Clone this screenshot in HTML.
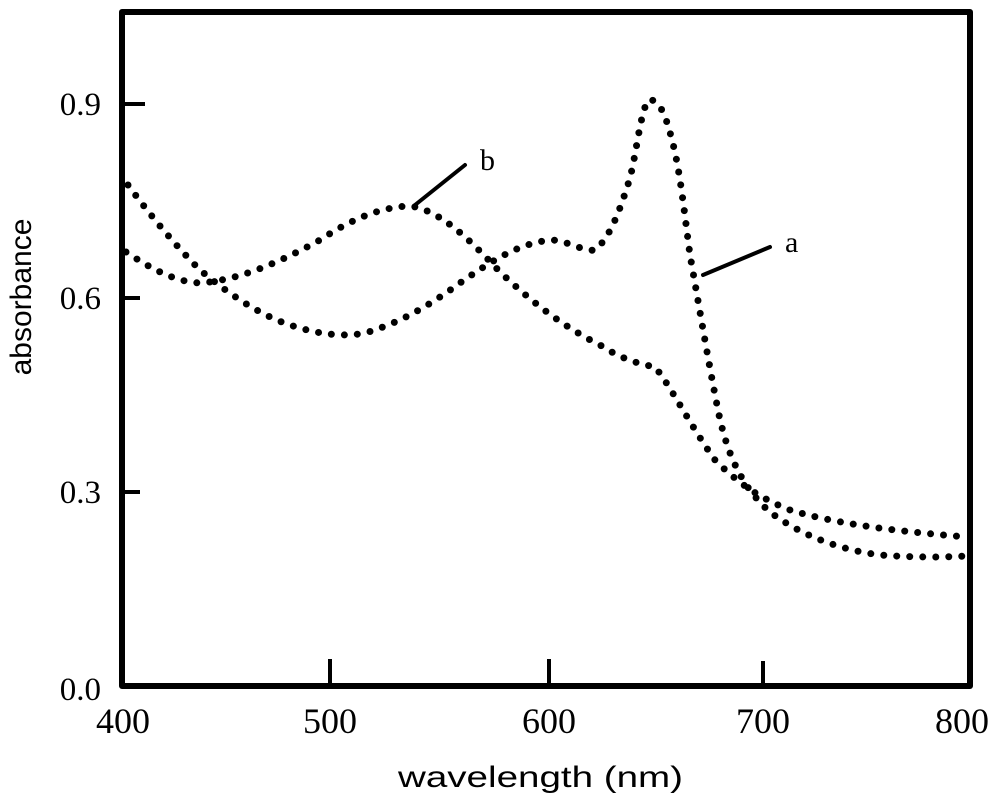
<!DOCTYPE html>
<html><head><meta charset="utf-8"><style>
html,body{margin:0;padding:0;background:#fff;}
svg{display:block;}
</style></head><body>
<svg width="1000" height="805" viewBox="0 0 1000 805" xmlns="http://www.w3.org/2000/svg">
<rect width="1000" height="805" fill="#fff"/>
<!-- frame -->
<path d="M122,12 L970,12 L970,686 L122,686 Z" fill="none" stroke="#000" stroke-width="6" stroke-linejoin="round"/>
<!-- ticks -->
<g stroke="#000" stroke-width="4">
<line x1="122" y1="104" x2="145" y2="104"/>
<line x1="122" y1="298" x2="140" y2="298"/>
<line x1="122" y1="492" x2="140" y2="492"/>
<line x1="330" y1="686" x2="330" y2="659"/>
<line x1="549" y1="686" x2="549" y2="659"/>
<line x1="763" y1="686" x2="763" y2="661"/>
</g>
<g font-family="Liberation Serif, serif" font-size="33" fill="#000">
<text x="101" y="115" text-anchor="end">0.9</text>
<text x="101" y="309" text-anchor="end">0.6</text>
<text x="101" y="503" text-anchor="end">0.3</text>
<text x="101" y="700" text-anchor="end">0.0</text>
</g>
<g font-family="Liberation Serif, serif" font-size="36" fill="#000">
<text x="123" y="733" text-anchor="middle">400</text>
<text x="330" y="733" text-anchor="middle">500</text>
<text x="549" y="733" text-anchor="middle">600</text>
<text x="763" y="733" text-anchor="middle">700</text>
<text x="962" y="733" text-anchor="middle">800</text>
<text x="480" y="170" font-size="30">b</text>
<text x="785" y="252" font-size="30">a</text>
</g>
<g font-family="Liberation Sans, sans-serif" font-size="30" fill="#000">
<text x="398" y="787" textLength="285" lengthAdjust="spacingAndGlyphs">wavelength (nm)</text>
<text transform="translate(31,297) rotate(-90)" text-anchor="middle">absorbance</text>
</g>
<!-- pointers -->
<g stroke="#000" stroke-width="4" stroke-linecap="round">
<line x1="415" y1="205" x2="465" y2="165"/>
<line x1="703" y1="275" x2="770" y2="247"/>
</g>
<!-- curves -->
<g fill="none" stroke="#000" stroke-width="7" stroke-linecap="round" stroke-dasharray="0 13">
<path d="M128,185 C150,215 175,245 200,270 C230,295 260,315 290,325 C320,335 345,337 365,333 C400,323 430,305 460,283 C490,262 520,242 553,240 C570,242 585,252 595,250 C610,238 620,210 630,178 C637,150 640,115 648,100 C658,98 665,112 672,140 C680,170 684,210 690,255 C698,300 708,360 718,410 C728,460 745,490 770,512 C800,535 840,550 880,555 C920,558 950,557 967,556"/>
<path d="M126,252 C150,268 175,282 200,283 C240,280 280,262 320,240 C350,220 380,207 410,206 C440,210 470,240 500,272 C530,300 560,325 600,345 C620,358 635,363 655,367 C670,385 690,425 715,460 C740,485 760,498 790,510 C830,522 880,530 967,537"/>
</g>
</svg>
</body></html>
